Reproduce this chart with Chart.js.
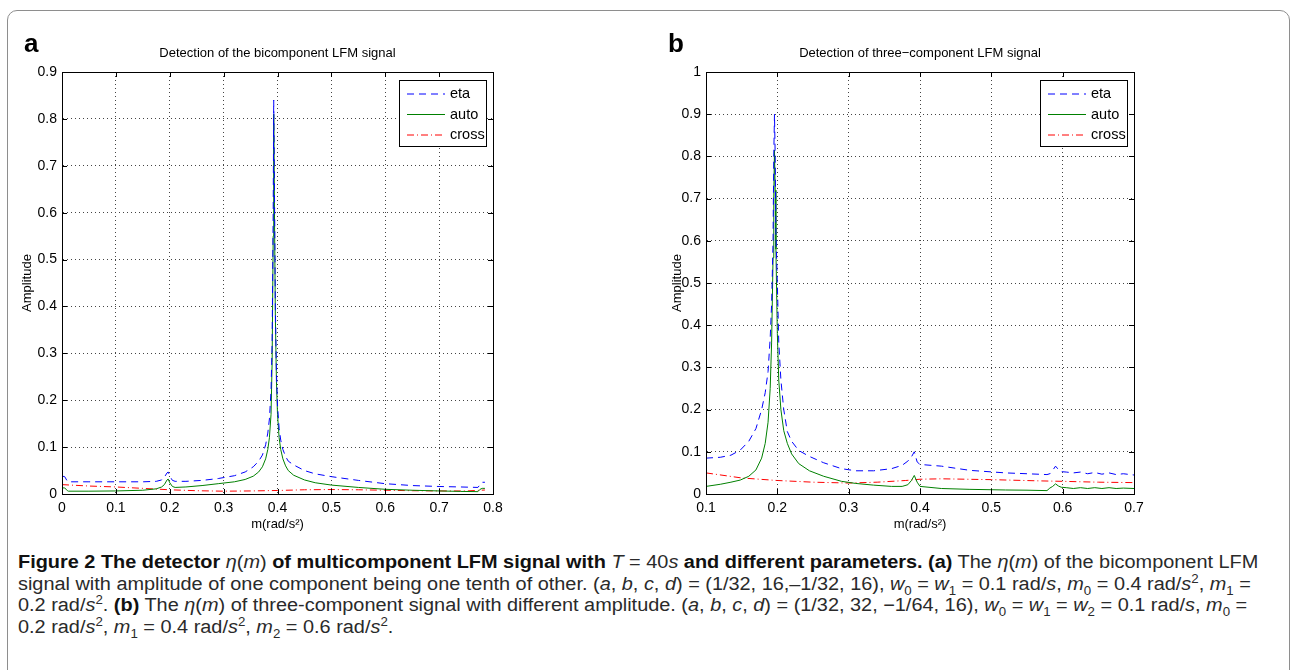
<!DOCTYPE html>
<html lang="en">
<head>
  <meta charset="UTF-8" />
  <title>Detection of multicomponent LFM signal</title>
  <script src="https://cdn.jsdelivr.net/npm/chart.js"></script>
  <style>
    body {
      margin: 0;
      width: 1294px;
      height: 670px;
      overflow: hidden;
      background: #fff;
      position: relative;
      font-family: 'Liberation Sans', Arial, sans-serif;
    }

    .frame {
      position: absolute;
      left: 7px;
      top: 10px;
      width: 1281px;
      height: 720px;
      border: 1.5px solid #8e8e8e;
      border-radius: 10px;
    }

    .panel {
      position: absolute;
      top: 0;
      width: 647px;
      height: 545px;
    }

    .letter {
      position: absolute;
      top: 28px;
      font: bold 26px 'Liberation Sans', Arial, sans-serif;
    }

    #caption {
      position: absolute;
      left: 18px;
      top: 552px;
      font-family: 'Liberation Sans', Arial, sans-serif;
      font-size: 18px;
      line-height: 21.5px;
      color: #2a2a2a;
      white-space: nowrap;
      transform: scaleX(1.105);
      transform-origin: 0 0;
    }

    #caption b { color: #111; }
    #caption sub, #caption sup { font-size: 12px; line-height: 0; }
  </style>
</head>
<body>
  <div class="frame"></div>

  <div class="panel" style="left:0"><canvas id="chartA"></canvas></div>
  <div class="panel" style="left:647px"><canvas id="chartB"></canvas></div>
  <div class="letter" style="left:24px">a</div>
  <div class="letter" style="left:668px">b</div>

  <div id="caption">
    <b>Figure 2 The detector </b><i>η</i>(<i>m</i>)<b> of multicomponent LFM signal with </b><i>T</i> = 40<i>s</i><b> and different parameters. (a)</b> The <i>η</i>(<i>m</i>) of the bicomponent LFM<br>
    signal with amplitude of one component being one tenth of other. (<i>a</i>, <i>b</i>, <i>c</i>, <i>d</i>) = (1/32, 16,–1/32, 16), <i>w</i><sub>0</sub> = <i>w</i><sub>1</sub> = 0.1 rad/<i>s</i>, <i>m</i><sub>0</sub> = 0.4 rad/<i>s</i><sup>2</sup>, <i>m</i><sub>1</sub> =<br>
    0.2 rad/<i>s</i><sup>2</sup>. <b>(b)</b> The <i>η</i>(<i>m</i>) of three-component signal with different amplitude. (<i>a</i>, <i>b</i>, <i>c</i>, <i>d</i>) = (1/32, 32, −1/64, 16), <i>w</i><sub>0</sub> = <i>w</i><sub>1</sub> = <i>w</i><sub>2</sub> = 0.1 rad/<i>s</i>, <i>m</i><sub>0</sub> =<br>
    0.2 rad/<i>s</i><sup>2</sup>, <i>m</i><sub>1</sub> = 0.4 rad/<i>s</i><sup>2</sup>, <i>m</i><sub>2</sub> = 0.6 rad/<i>s</i><sup>2</sup>.
  </div>

  <script>
    // ---- panel (a): bicomponent signal ----
    const mA = [0, 0.005, 0.01, 0.012, 0.05, 0.1, 0.15, 0.175, 0.185, 0.19, 0.195, 0.197, 0.2, 0.205, 0.21,
      0.23, 0.26, 0.29, 0.32, 0.34, 0.355, 0.365, 0.372, 0.378, 0.382, 0.385, 0.388, 0.39, 0.392, 0.393,
      0.394, 0.396, 0.398, 0.4, 0.403, 0.406, 0.41, 0.415, 0.42, 0.43, 0.45, 0.47, 0.5, 0.55, 0.6, 0.65,
      0.7, 0.74, 0.772, 0.776, 0.78, 0.785];
    const etaA = [0.038, 0.037, 0.027, 0.026, 0.026, 0.026, 0.026, 0.027, 0.03, 0.036, 0.045, 0.047, 0.038, 0.029, 0.027,
      0.027, 0.029, 0.033, 0.039, 0.047, 0.058, 0.07, 0.083, 0.105, 0.13, 0.16, 0.22, 0.32, 0.6, 0.84,
      0.7, 0.4, 0.26, 0.19, 0.14, 0.115, 0.095, 0.08, 0.07, 0.062, 0.05, 0.043, 0.037, 0.029, 0.022, 0.018,
      0.016, 0.015, 0.014, 0.02, 0.025, 0.025];
    const autoA = [0.013, 0.013, 0.007, 0.006, 0.006, 0.0065, 0.008, 0.011, 0.015, 0.02, 0.03, 0.032, 0.024, 0.016, 0.014,
      0.015, 0.018, 0.022, 0.026, 0.031, 0.038, 0.047, 0.058, 0.075, 0.095, 0.12, 0.17, 0.28, 0.55, 0.81,
      0.65, 0.38, 0.24, 0.17, 0.12, 0.095, 0.075, 0.06, 0.05, 0.04, 0.03, 0.024, 0.019, 0.014, 0.010, 0.008,
      0.0065, 0.0055, 0.005, 0.01, 0.012, 0.012];
    const mCrossA = [0, 0.05, 0.1, 0.15, 0.2, 0.25, 0.3, 0.35, 0.4, 0.45, 0.5, 0.55, 0.6, 0.65, 0.7, 0.75, 0.785];
    const crossA = [0.02, 0.017, 0.015, 0.012, 0.009, 0.007, 0.006, 0.0065, 0.0075, 0.009, 0.0095, 0.009, 0.008, 0.007, 0.0065, 0.0065, 0.0085];
    const xTicksA = [0, 0.1, 0.2, 0.3, 0.4, 0.5, 0.6, 0.7, 0.8];
    const yTicksA = [0, 0.1, 0.2, 0.3, 0.4, 0.5, 0.6, 0.7, 0.8, 0.9];

    // ---- panel (b): three-component signal ----
    const mB = [0.1, 0.12, 0.135, 0.148, 0.16, 0.17, 0.178, 0.183, 0.187, 0.19, 0.192, 0.194, 0.195, 0.196, 0.197,
      0.198, 0.2, 0.202, 0.205, 0.209, 0.214, 0.22, 0.23, 0.245, 0.265, 0.29, 0.31, 0.335, 0.36, 0.375,
      0.383, 0.388, 0.392, 0.396, 0.4, 0.43, 0.47, 0.52, 0.55, 0.578, 0.582, 0.586, 0.59, 0.594, 0.598,
      0.605, 0.615, 0.625, 0.635, 0.645, 0.655, 0.665, 0.675, 0.685, 0.7];
    const etaB = [0.085, 0.087, 0.092, 0.104, 0.125, 0.155, 0.2, 0.24, 0.29, 0.37, 0.45, 0.6, 0.8, 0.9, 0.8,
      0.62, 0.5, 0.36, 0.27, 0.2, 0.148, 0.125, 0.103, 0.089, 0.074, 0.06, 0.055, 0.055, 0.06, 0.068,
      0.078, 0.088, 0.1, 0.076, 0.07, 0.066, 0.056, 0.05, 0.048, 0.046, 0.048, 0.056, 0.066, 0.058, 0.053,
      0.052, 0.05, 0.052, 0.048, 0.051, 0.047, 0.05, 0.046, 0.048, 0.045];
    const autoB = [0.018, 0.023, 0.028, 0.033, 0.042, 0.057, 0.085, 0.12, 0.17, 0.25, 0.36, 0.56, 0.7, 0.815, 0.72,
      0.58, 0.38, 0.27, 0.2, 0.15, 0.12, 0.095, 0.072, 0.055, 0.042, 0.03, 0.025, 0.021, 0.018, 0.018,
      0.022, 0.032, 0.044, 0.028, 0.018, 0.013, 0.011, 0.0095, 0.009, 0.008, 0.014, 0.018, 0.024, 0.019, 0.016,
      0.015, 0.013, 0.015, 0.013, 0.015, 0.013, 0.015, 0.013, 0.014, 0.013];
    const mCrossB = [0.1, 0.15, 0.2, 0.25, 0.3, 0.34, 0.38, 0.4, 0.43, 0.5, 0.57, 0.6, 0.65, 0.7];
    const crossB = [0.05, 0.038, 0.032, 0.028, 0.026, 0.028, 0.032, 0.035, 0.036, 0.034, 0.031, 0.03, 0.028, 0.027];
    const xTicksB = [0.1, 0.2, 0.3, 0.4, 0.5, 0.6, 0.7];
    const yTicksB = [0, 0.1, 0.2, 0.3, 0.4, 0.5, 0.6, 0.7, 0.8, 0.9, 1];

    const seriesNames = ["eta", "auto", "cross"];
    const tickFont = { family: "'Liberation Sans', Arial, sans-serif", size: 14 };

    const pairs = (xs, ys) => xs.map((x, i) => ({ x: x, y: ys[i] }));
    const fmt = v => String(+v.toFixed(1));

    // Matlab-like box, inner ticks, title and legend
    const matlabAxes = {
      id: 'matlabAxes',
      afterDraw(chart, args, opts) {
        const { ctx, chartArea: a, scales } = chart;
        ctx.save();
        ctx.strokeStyle = '#000';
        ctx.lineWidth = 1;
        ctx.setLineDash([]);
        ctx.strokeRect(a.left + 0.5, a.top + 0.5, a.right - a.left, a.bottom - a.top);

        ctx.beginPath();
        scales.x.ticks.forEach(t => {
          const px = Math.round(scales.x.getPixelForValue(t.value)) + 0.5;
          ctx.moveTo(px, a.bottom); ctx.lineTo(px, a.bottom - 5);
          ctx.moveTo(px, a.top); ctx.lineTo(px, a.top + 5);
        });
        scales.y.ticks.forEach(t => {
          const py = Math.round(scales.y.getPixelForValue(t.value)) + 0.5;
          ctx.moveTo(a.left, py); ctx.lineTo(a.left + 5, py);
          ctx.moveTo(a.right, py); ctx.lineTo(a.right - 5, py);
        });
        ctx.stroke();

        ctx.fillStyle = '#000';
        ctx.font = "13px 'Liberation Sans', Arial, sans-serif";
        ctx.textAlign = 'center';
        ctx.textBaseline = 'middle';
        ctx.fillText(opts.title, (a.left + a.right) / 2, 53);

        // legend box
        const bx = a.right - 94, by = a.top + 8, bw = 87, bh = 66;
        ctx.fillStyle = '#fff';
        ctx.fillRect(bx, by, bw, bh);
        ctx.strokeRect(bx + 0.5, by + 0.5, bw, bh);
        ctx.font = "14.5px 'Liberation Sans', Arial, sans-serif";
        ctx.textAlign = 'left';
        chart.data.datasets.forEach((ds, i) => {
          const ly = by + 14 + i * 20.5;
          ctx.beginPath();
          ctx.strokeStyle = ds.borderColor;
          ctx.setLineDash(ds.borderDash || []);
          ctx.moveTo(bx + 8, ly);
          ctx.lineTo(bx + 46, ly);
          ctx.stroke();
          ctx.fillStyle = '#000';
          ctx.fillText(ds.label, bx + 51, ly);
        });
        ctx.restore();
      }
    };

    function makeChart(id, title, m, eta, auto, mCross, cross, xTicks, yTicks, yWidth, padRight, yTitlePad) {
      new Chart(document.getElementById(id), {
        type: 'line',
        data: {
          datasets: [
            { label: seriesNames[0], data: pairs(m, eta), borderColor: '#0000ff', borderDash: [7, 5] },
            { label: seriesNames[1], data: pairs(m, auto), borderColor: '#008000' },
            { label: seriesNames[2], data: pairs(mCross, cross), borderColor: '#ff0000', borderDash: [7, 3, 1, 3] }
          ]
        },
        options: {
          responsive: true,
          maintainAspectRatio: false,
          animation: false,
          layout: { padding: { left: 0, top: 72, right: padRight, bottom: 5 } },
          elements: {
            point: { radius: 0 },
            line: { borderWidth: 1, tension: 0 }
          },
          plugins: {
            legend: { display: false },
            tooltip: { enabled: false },
            matlabAxes: { title: title }
          },
          scales: {
            x: {
              type: 'linear',
              min: xTicks[0],
              max: xTicks[xTicks.length - 1],
              afterBuildTicks: s => { s.ticks = xTicks.map(v => ({ value: v })); },
              afterFit: s => { s.height = 46; },
              ticks: { color: '#000', font: tickFont, padding: 6, maxRotation: 0, callback: fmt },
              grid: { color: '#444', drawTicks: false },
              border: { color: '#000', dash: [1, 3] },
              title: { display: true, text: 'm(rad/s²)', color: '#000', font: { family: tickFont.family, size: 13 }, padding: { bottom: 8 } }
            },
            y: {
              min: yTicks[0],
              max: yTicks[yTicks.length - 1],
              afterBuildTicks: s => { s.ticks = yTicks.map(v => ({ value: v })); },
              afterFit: s => { s.width = yWidth; },
              ticks: { color: '#000', font: tickFont, padding: 5, callback: fmt },
              grid: { color: '#444', drawTicks: false },
              border: { color: '#000', dash: [1, 3] },
              title: { display: true, text: 'Amplitude', color: '#000', font: { family: tickFont.family, size: 13 }, padding: { top: yTitlePad } }
            }
          }
        },
        plugins: [matlabAxes]
      });
    }

    makeChart('chartA', 'Detection of the bicomponent LFM signal', mA, etaA, autoA, mCrossA, crossA, xTicksA, yTicksA, 62, 154, 20);
    makeChart('chartB', 'Detection of three\u2212component LFM signal', mB, etaB, autoB, mCrossB, crossB, xTicksB, yTicksB, 59, 160, 23);
  </script>
</body>
</html>
